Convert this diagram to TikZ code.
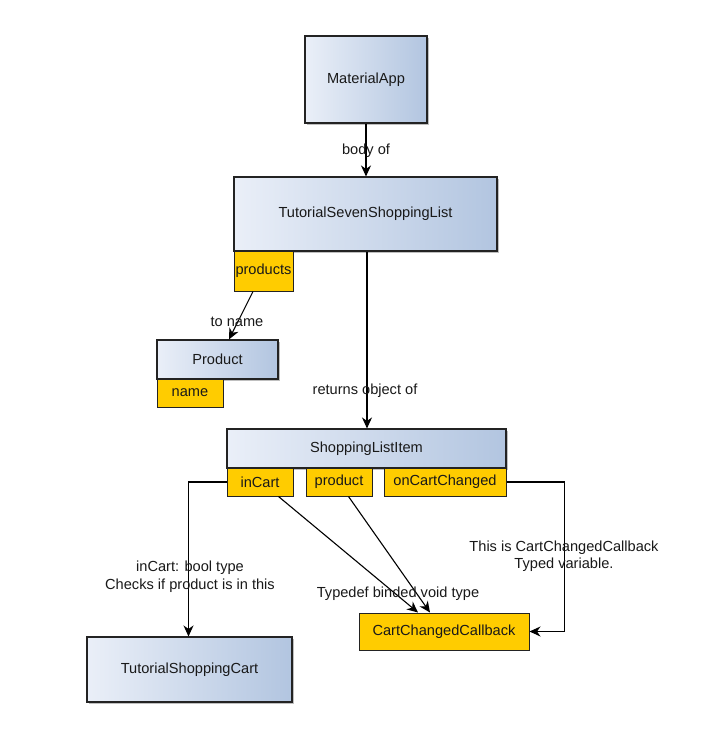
\documentclass[tikz,border=0pt]{standalone}
\usepackage{fontspec}
\setmainfont{Liberation Sans}
\usetikzlibrary{arrows.meta,shadows,calc}
\definecolor{boxL}{RGB}{234,239,248}
\definecolor{boxR}{RGB}{178,197,224}
\definecolor{attr}{RGB}{255,204,0}
\definecolor{edge}{RGB}{35,35,35}
\definecolor{txt}{RGB}{25,25,25}
\begin{document}
\begin{tikzpicture}[x=1pt,y=-1pt,
  every node/.style={font=\fontsize{14.6}{17.5}\selectfont, text=txt, inner sep=0pt},
  classbox/.style={draw=edge, line width=1.1pt, left color=boxL, right color=boxR, shading angle=90,
     drop shadow={shadow xshift=2pt, shadow yshift=-2pt, opacity=0.25, fill=black}},
  attrbox/.style={draw=edge, line width=1pt, fill=attr},
  conn/.style={draw=black, line width=1.1pt, -{Stealth[length=11pt,width=10pt,inset=3.5pt]}},
  lbl/.style={align=center}
]
\useasboundingbox[fill=white] (0,0) rectangle (727,753);

% class boxes
\node[classbox, minimum width=122pt, minimum height=87pt] (app) at (366,79.5) {MaterialApp};
\node[classbox, minimum width=263pt, minimum height=74pt] (tssl) at (365.5,214) {TutorialSevenShoppingList};
\node[classbox, minimum width=121pt, minimum height=39pt] (prod) at (217.5,359.5) {Product};
\node[classbox, minimum width=279pt, minimum height=39pt] (sli) at (366.5,448.5) {ShoppingListItem};
\node[classbox, minimum width=205pt, minimum height=65pt] (tsc) at (189.5,669.5) {TutorialShoppingCart};

% attribute boxes
\node[attrbox, minimum width=59pt, minimum height=40pt] (products) at (263.5,271) {products};
\node[attrbox, minimum width=66pt, minimum height=28pt] (name) at (190,393) {name};
\node[attrbox, minimum width=66pt, minimum height=28pt] (incart) at (260,482) {inCart};
\node[attrbox, minimum width=66pt, minimum height=28pt] (product) at (339,482) {product};
\node[attrbox, minimum width=122pt, minimum height=28pt] (occ) at (445,482) {onCartChanged};
\node[attrbox, minimum width=170pt, minimum height=37pt] (ccc) at (444,631.5) {CartChangedCallback};

% connectors
\draw[conn] (app.south) -- (app.south |- tssl.north);
\draw[conn] ($(products.south)+(-10.5,0)$) -- ($(prod.north)+(11.5,0)$);
\draw[conn] ($(tssl.south)+(1.5,0)$) -- ($(sli.north)+(0.5,0)$);
\draw[conn] (incart.west) -- ++(-38,0) coordinate (kA) -- (kA |- tsc.north);
\draw[conn] ($(incart.south east)+(-15,0)$) -- ($(ccc.north)+(-26,0)$);
\draw[conn] ($(product.south east)+(-24,0)$) -- ($(ccc.north)+(-14,0)$);
\draw[conn] (occ.east) -- ++(58,0) coordinate (kB) -- (kB |- ccc.east) -- (ccc.east);

% labels
\node[lbl] (l1) at (366,151) {body of};
\node[lbl] (l2) at (237,322) {to name};
\node[lbl] (l3) at (365,391) {returns object of};
\node[lbl] (l4) at (190,576.5) {inCart: bool type\\Checks if product is in this};
\node[lbl] (l5) at (398,594) {Typedef binded void type};
\node[lbl] (l6) at (564,556) {This is CartChangedCallback\\Typed variable.};
\end{tikzpicture}
\end{document}
